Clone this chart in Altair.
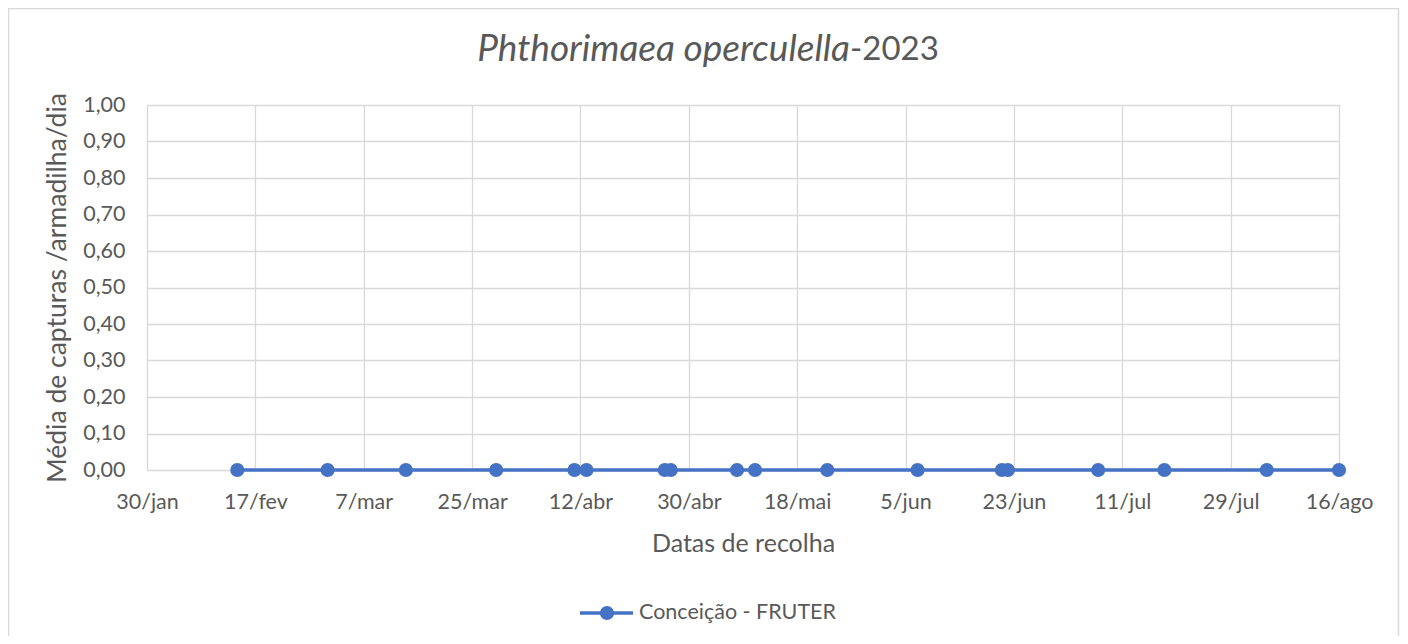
import altair as alt
import pandas as pd

# ---- data ----
dates = ["2023-02-14", "2023-03-01", "2023-03-14", "2023-03-29", "2023-04-11",
         "2023-04-13", "2023-04-26", "2023-04-27", "2023-05-08", "2023-05-11",
         "2023-05-23", "2023-06-07", "2023-06-21", "2023-06-22", "2023-07-07",
         "2023-07-18", "2023-08-04", "2023-08-16"]
values = [0.0] * len(dates)
series_name = "Conceição - FRUTER"

tick_days = [30, 48, 66, 84, 102, 120, 138, 156, 174, 192, 210, 228]
tick_labels = ["30/jan", "17/fev", "7/mar", "25/mar", "12/abr", "30/abr",
               "18/mai", "5/jun", "23/jun", "11/jul", "29/jul", "16/ago"]
y_ticks = [0.0, 0.1, 0.2, 0.3, 0.4, 0.5, 0.6, 0.7, 0.8, 0.9, 1.0]

title_italic = "Phthorimaea operculella"
title_plain = "-2023"
x_title = "Datas de recolha"
y_title = "Média de capturas /armadilha/dia"

df = pd.DataFrame({"date": pd.to_datetime(dates), "value": values})
df["day"] = df["date"].dt.dayofyear
df["serie"] = series_name

BLUE = "#4472C4"
GREY = "#595959"
GRID = "#d9d9d9"
FONT = "Lato"
W, H = 1192, 365

label_arr = "[" + ",".join(f"'{t}'" for t in tick_labels) + "]"

x_enc = alt.X("day:Q",
              scale=alt.Scale(domain=[tick_days[0], tick_days[-1]], nice=False, zero=False),
              axis=alt.Axis(values=tick_days, tickCount=len(tick_days) + 5,
                            labelExpr=f"{label_arr}[round((datum.value-{tick_days[0]})/18)]",
                            title=x_title, grid=True, gridColor=GRID, gridWidth=1.3,
                            domain=False, ticks=False, labelPadding=21,
                            labelFlush=False, labelOverlap=False,
                            labelFontSize=21.5, labelColor=GREY, labelFont=FONT,
                            titleFontSize=25, titleColor=GREY, titleFont=FONT,
                            titleFontWeight="normal", titlePadding=19))
y_enc = alt.Y("value:Q",
              scale=alt.Scale(domain=[0, 1], nice=False),
              axis=alt.Axis(values=y_ticks, tickCount=len(y_ticks) + 5,
                            labelExpr="replace(format(datum.value, '.2f'), '.', ',')",
                            title=y_title, grid=True, gridColor=GRID, gridWidth=1.3,
                            domain=False, ticks=False, labelPadding=22,
                            labelFlush=False, labelOverlap=False,
                            labelFontSize=21.5, labelColor=GREY, labelFont=FONT,
                            titleFontSize=26.5, titleColor=GREY, titleFont=FONT,
                            titleFontWeight="normal", titlePadding=11))

base = alt.Chart(df)
line = base.mark_line(color=BLUE, strokeWidth=3.5).encode(x=x_enc, y=y_enc)
pts = base.mark_point(color=BLUE, filled=True, opacity=1, size=200).encode(
    x=x_enc, y=y_enc)

# title
t1 = alt.Chart(pd.DataFrame({"t": [title_italic]})).mark_text(
    align="right", baseline="middle", fontSize=37, fontStyle="italic",
    color=GREY, font=FONT).encode(x=alt.value(703), y=alt.value(-55), text="t:N")
t2 = alt.Chart(pd.DataFrame({"t": [title_plain]})).mark_text(
    align="left", baseline="middle", fontSize=33, color=GREY,
    font=FONT).encode(x=alt.value(703), y=alt.value(-55), text="t:N")

# legend
leg_line = alt.Chart(pd.DataFrame({"k": [1]})).mark_rule(
    color=BLUE, strokeWidth=3.5).encode(
    x=alt.value(433), x2=alt.value(486), y=alt.value(508))
leg_pt = alt.Chart(pd.DataFrame({"k": [1]})).mark_point(
    color=BLUE, filled=True, opacity=1, size=200).encode(
    x=alt.value(460), y=alt.value(508))
leg_txt = alt.Chart(pd.DataFrame({"t": [series_name]})).mark_text(
    align="left", baseline="middle", fontSize=21.5, color=GREY,
    font=FONT).encode(x=alt.value(492), y=alt.value(508), text="t:N")

# outer chart border
border = alt.Chart(pd.DataFrame({"k": [1]})).mark_rect(
    fill=None, stroke=GRID, strokeWidth=1.5, clip=False).encode(
    x=alt.value(-138.5), x2=alt.value(1251.5), y=alt.value(-96.5), y2=alt.value(600))

chart = alt.layer(border, line, pts, t1, t2, leg_line, leg_pt, leg_txt).properties(
    width=W, height=H,
    autosize=alt.AutoSizeParams(type="none"),
    padding={"left": 139, "top": 97, "right": 61, "bottom": 166},
).configure_view(stroke=None).configure(background="white")

chart.save("out.html", embed_options={"renderer": "svg", "actions": False})
